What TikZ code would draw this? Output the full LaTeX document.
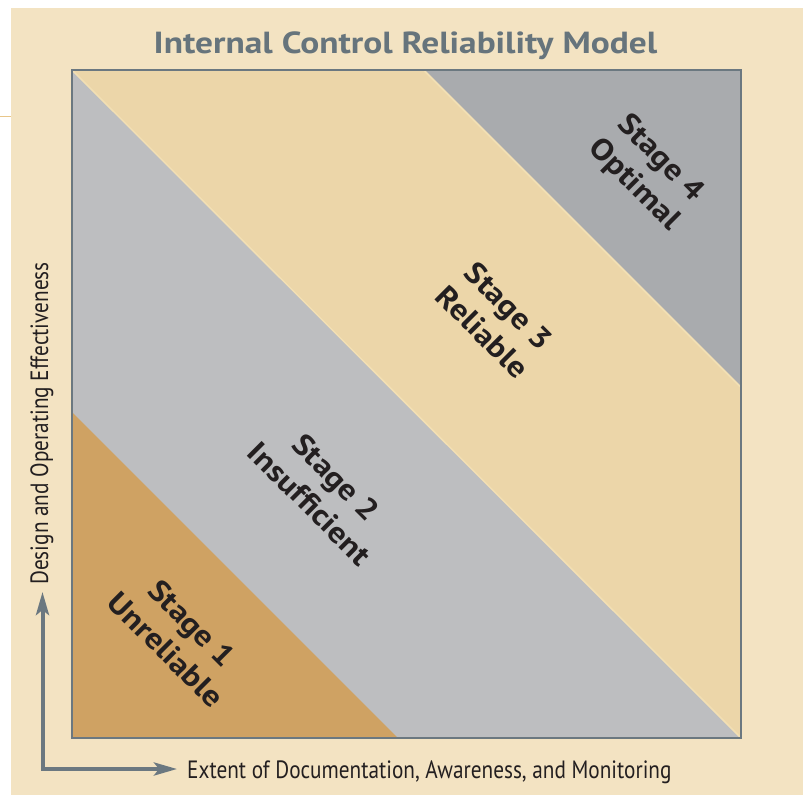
\documentclass[tikz,border=0pt]{standalone}
\usepackage{fontspec}
\setmainfont{PT Sans}
\newfontfamily\condfont[FakeStretch=0.85]{PT Sans}
\newfontfamily\widefont[FakeStretch=1.12]{PT Sans}
\newfontfamily\titlefont[FakeStretch=1.16]{PT Sans}
\usetikzlibrary{arrows.meta}
\definecolor{bgbeige}{HTML}{F3E3C2}
\definecolor{stageone}{HTML}{CFA263}
\definecolor{stagetwo}{HTML}{BDBEC0}
\definecolor{stagethree}{HTML}{ECD6A9}
\definecolor{stagefour}{HTML}{A9ABAE}
\definecolor{edgelight}{HTML}{F2DFB3}
\definecolor{framegray}{HTML}{6B7880}
\definecolor{titlegray}{HTML}{66747C}
\definecolor{inkdark}{HTML}{231F20}
\definecolor{tickorange}{HTML}{E8C68A}
\tikzset{
  stagelabel/.style={font=\widefont\fontsize{30}{37}\selectfont\bfseries, text=inkdark, align=center, rotate=-45, inner sep=0pt},
  axislabel/.style={font=\condfont\fontsize{25}{30}\selectfont, text=inkdark, inner sep=0pt},
  axisarrow/.style={draw=framegray, line width=4pt, -{Stealth[length=23pt,width=13pt,inset=5pt]}},
}
\begin{document}
\begin{tikzpicture}[x=1pt,y=-1pt]
\useasboundingbox (0,0) rectangle (803,795);
\fill[white] (0,0) rectangle (803,795);
\fill[bgbeige] (11,8) rectangle (803,795);
\draw[tickorange, line width=1.2pt] (0,116.5) -- (11,116.5);
% bands
\fill[stagetwo] (72,70) rectangle (741,738);
\fill[stageone] (72,412) -- (72,738) -- (398,738) -- cycle;
\fill[stagethree] (72,70) -- (425,70) -- (741,386) -- (741,738) -- cycle;
\fill[stagefour] (425,70) -- (741,70) -- (741,386) -- cycle;
\draw[edgelight, line width=1.5pt] (73,71) -- (740,737);
\draw[edgelight, line width=1.5pt] (424.5,71) -- (740,386.5);
% frame
\draw[framegray, line width=2.2pt] (72,70) rectangle (741,738);
% title
\node[font=\titlefont\fontsize{30.5}{36}\selectfont\bfseries, text=titlegray, anchor=base, inner sep=0pt] (title) at (405.5,53) {Internal Control Reliability Model};
% stage labels
\node[stagelabel] (s1) at (179,636.5) {Stage 1\\Unreliable};
\node[stagelabel] (s2) at (323,490.5) {Stage 2\\Insufficient};
\node[stagelabel] (s3) at (495.5,319) {Stage 3\\Reliable};
\node[stagelabel] (s4) at (647,172) {Stage 4\\Optimal};
% axes
\coordinate (corner) at (42.5,769);
\coordinate (ytip) at (42.5,592);
\coordinate (xtip) at (177,769);
\draw[axisarrow] (corner) -- (ytip);
\draw[axisarrow] (corner) -- (xtip);
\fill[framegray] (40.5,767) rectangle (44.5,771);
\node[axislabel, anchor=base west] (xlabel) at (187,778) {Extent of Documentation, Awareness, and Monitoring};
\node[axislabel, anchor=base, rotate=90] (ylabel) at (48,423.5) {Design and Operating Effectiveness};
\end{tikzpicture}
\end{document}
